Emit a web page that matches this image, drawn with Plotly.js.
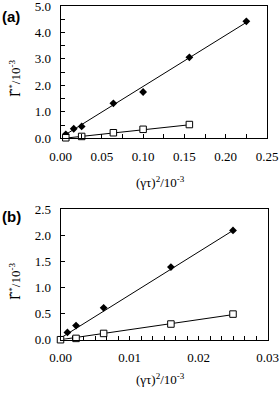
<!DOCTYPE html>
<html>
<head>
<meta charset="utf-8">
<script src="https://cdn.plot.ly/plotly-3.0.1.min.js"></script>
<style>
html,body{margin:0;padding:0;background:#fff;}
#chart{width:280px;height:394px;}
</style>
</head>
<body>
<div id="chart"></div>
<script>
// Panel (a) data
const xA_filled = [0.0064, 0.016, 0.0256, 0.064, 0.1, 0.156, 0.225];
const yA_filled = [0.15, 0.36, 0.45, 1.32, 1.75, 3.06, 4.42];
const xA_open = [0.0064, 0.0256, 0.064, 0.1, 0.156];
const yA_open = [0.02, 0.07, 0.21, 0.34, 0.52];
const xA_fitFilled = [0.004, 0.225];
const yA_fitFilled = [0.1, 4.38];
const xA_fitOpen = [0.004, 0.156];
const yA_fitOpen = [0.0, 0.51];

// Panel (b) data
const xB_filled = [0.001, 0.00225, 0.00625, 0.016, 0.025];
const yB_filled = [0.14, 0.27, 0.61, 1.39, 2.09];
const xB_open = [0, 0.00225, 0.00625, 0.016, 0.025];
const yB_open = [0.0, 0.025, 0.12, 0.30, 0.49];
const xB_fitFilled = [0, 0.025];
const yB_fitFilled = [0.03, 2.09];
const xB_fitOpen = [0, 0.025];
const yB_fitOpen = [0.0, 0.48];

// Axis tick settings
const xA_range = [0, 0.25], xA_dtick = 0.05, xA_minor = 0.025;
const yA_range = [0, 5], yA_dtick = 1, yA_minor = 0.5;
const xB_range = [0, 0.03], xB_dtick = 0.01, xB_minor = 0.01/6;
const yB_range = [0, 2.5], yB_dtick = 0.5;

const serif = '"Liberation Serif", "Times New Roman", serif';
const sans = '"Liberation Sans", Arial, sans-serif';

function lineTrace(x, y, xa, ya) {
  return {x: x, y: y, xaxis: xa, yaxis: ya, mode: 'lines', type: 'scatter',
    line: {color: '#000', width: 1}, hoverinfo: 'skip', cliponaxis: false, showlegend: false};
}
function filledTrace(x, y, xa, ya) {
  return {x: x, y: y, xaxis: xa, yaxis: ya, mode: 'markers', type: 'scatter',
    marker: {symbol: 'diamond', size: 6, color: '#000', line: {width: 0}},
    cliponaxis: false, showlegend: false};
}
function openTrace(x, y, xa, ya) {
  return {x: x, y: y, xaxis: xa, yaxis: ya, mode: 'markers', type: 'scatter',
    marker: {symbol: 'square', size: 6.5, color: '#fff', line: {width: 1, color: '#000'}},
    cliponaxis: false, showlegend: false};
}

const data = [
  lineTrace(xA_fitFilled, yA_fitFilled, 'x', 'y'),
  lineTrace(xA_fitOpen, yA_fitOpen, 'x', 'y'),
  filledTrace(xA_filled, yA_filled, 'x', 'y'),
  openTrace(xA_open, yA_open, 'x', 'y'),
  lineTrace(xB_fitFilled, yB_fitFilled, 'x2', 'y2'),
  lineTrace(xB_fitOpen, yB_fitOpen, 'x2', 'y2'),
  filledTrace(xB_filled, yB_filled, 'x2', 'y2'),
  openTrace(xB_open, yB_open, 'x2', 'y2')
];

function axisBase() {
  return {
    showline: true, linecolor: '#000', linewidth: 1, mirror: true,
    showgrid: false, zeroline: false, ticks: 'inside', ticklen: 4, tickwidth: 1,
    tickcolor: '#000', automargin: false, fixedrange: true, ticklabeloverflow: 'allow',
    tickfont: {family: serif, size: 13, color: '#000'}
  };
}

const xaxis = Object.assign(axisBase(), {domain: [0.2161, 0.9536], range: xA_range, dtick: xA_dtick, tick0: 0,
  tickformat: '.2f', anchor: 'y', ticklabelstandoff: 6,
  minor: {dtick: xA_minor, tick0: 0, ticks: 'inside', ticklen: 4, tickcolor: '#000', showgrid: false}});
const yaxis = Object.assign(axisBase(), {domain: [0.6490, 0.9848], range: yA_range, dtick: yA_dtick, tick0: 0,
  tickformat: '.1f', anchor: 'x', ticklabelstandoff: 6,
  minor: {dtick: yA_minor, tick0: 0, ticks: 'inside', ticklen: 4, tickcolor: '#000', showgrid: false}});
const xaxis2 = Object.assign(axisBase(), {domain: [0.2161, 0.9554], range: xB_range, dtick: xB_dtick, tick0: 0,
  tickformat: '.2f', anchor: 'y2', ticklabelstandoff: 6,
  minor: {dtick: xB_minor, tick0: 0, ticks: 'inside', ticklen: 4, tickcolor: '#000', showgrid: false}});
const yaxis2 = Object.assign(axisBase(), {domain: [0.1378, 0.4695], range: yB_range, dtick: yB_dtick, tick0: 0,
  tickformat: '.1f', anchor: 'x2', ticklabelstandoff: 6});

const xTitle = '(\u03B3\u03C4)<sup>2</sup>/10<sup>-3</sup>';
const yTitle = '<span style="font-family:DejaVu Serif;font-size:12px">\u0393\u0302</span><sup>*</sup>/10<sup>-3</sup>';

const annotations = [
  {text: '<b>(a)</b>', x: 11/280, y: 1 - 17/394, xref: 'paper', yref: 'paper', showarrow: false,
   xanchor: 'center', yanchor: 'middle', font: {family: sans, size: 15, color: '#000'}},
  {text: '<b>(b)</b>', x: 11/280, y: 1 - 216/394, xref: 'paper', yref: 'paper', showarrow: false,
   xanchor: 'center', yanchor: 'middle', font: {family: sans, size: 15, color: '#000'}},
  {text: xTitle, x: 160/280, y: 1 - 182/394, xref: 'paper', yref: 'paper', showarrow: false,
   xanchor: 'center', yanchor: 'middle', font: {family: serif, size: 13, color: '#000'}},
  {text: xTitle, x: 160/280, y: 1 - 379/394, xref: 'paper', yref: 'paper', showarrow: false,
   xanchor: 'center', yanchor: 'middle', font: {family: serif, size: 13, color: '#000'}},
  {text: yTitle, x: 15/280, y: 1 - 78/394, xref: 'paper', yref: 'paper', showarrow: false, textangle: -90,
   xanchor: 'center', yanchor: 'middle', font: {family: serif, size: 13, color: '#000'}},
  {text: yTitle, x: 15/280, y: 1 - 281/394, xref: 'paper', yref: 'paper', showarrow: false, textangle: -90,
   xanchor: 'center', yanchor: 'middle', font: {family: serif, size: 13, color: '#000'}}
];

const layout = {
  width: 280, height: 394,
  margin: {l: 0, r: 0, t: 0, b: 0, pad: 0},
  paper_bgcolor: '#fff', plot_bgcolor: '#fff',
  showlegend: false,
  font: {family: serif, size: 13, color: '#000'},
  xaxis: xaxis, yaxis: yaxis, xaxis2: xaxis2, yaxis2: yaxis2,
  annotations: annotations
};

Plotly.newPlot('chart', data, layout, {staticPlot: true, displayModeBar: false});
</script>
</body>
</html>
